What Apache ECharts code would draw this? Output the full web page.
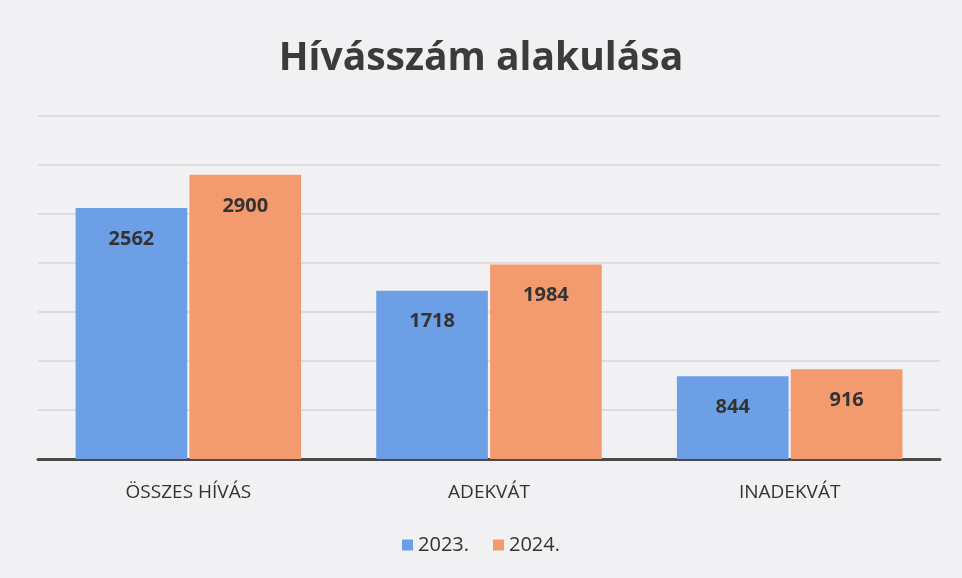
<!DOCTYPE html>
<html><head><meta charset="utf-8">
<script src="https://cdn.jsdelivr.net/npm/echarts@6/dist/echarts.min.js"></script>
<style>html,body{margin:0;padding:0;background:#f1f1f3}#c{width:962px;height:578px}</style>
</head><body><div id="c"></div>
<script>
const categories = ['ÖSSZES HÍVÁS', 'ADEKVÁT', 'INADEKVÁT'];
const seriesNames = ['2023.', '2024.'];
const values2023 = [2562, 1718, 844];
const values2024 = [2900, 1984, 916];

const chart = echarts.init(document.getElementById('c'));
const labelStyle = {show: true, position: 'insideTop', distance: 21, fontSize: 20, fontWeight: 'bold', color: '#333', fontFamily: 'Open Sans'};
chart.setOption({
  backgroundColor: '#f1f1f3',
  title: {text: 'Hívásszám alakulása', left: 'center', top: 34,
    textStyle: {fontSize: 39, fontWeight: 'bold', color: '#3b3b3b', fontFamily: 'Open Sans'}},
  legend: {bottom: 18, left: 'center', itemWidth: 11, itemHeight: 11, itemGap: 24, icon: 'rect',
    textStyle: {fontSize: 20, color: '#333', fontFamily: 'Open Sans'}},
  grid: {left: 38, right: 22, top: 116, bottom: 119},
  xAxis: {type: 'category', data: categories,
    axisLine: {lineStyle: {color: '#4a4a4a', width: 3}}, axisTick: {show: false},
    axisLabel: {fontSize: 19, color: '#333', margin: 24, fontFamily: 'Open Sans'}},
  yAxis: {type: 'value', min: 0, max: 3500, interval: 500, axisLabel: {show: false},
    axisLine: {show: false}, axisTick: {show: false},
    splitLine: {lineStyle: {color: '#d6d6da', width: 1.5}}},
  series: [
    {name: seriesNames[0], type: 'bar', data: values2023, barCategoryGap: '25%', barGap: '2%',
     itemStyle: {color: '#6c9fe6'}, label: labelStyle},
    {name: seriesNames[1], type: 'bar', data: values2024,
     itemStyle: {color: '#f39a6e'}, label: labelStyle}
  ]
});
</script></body></html>
